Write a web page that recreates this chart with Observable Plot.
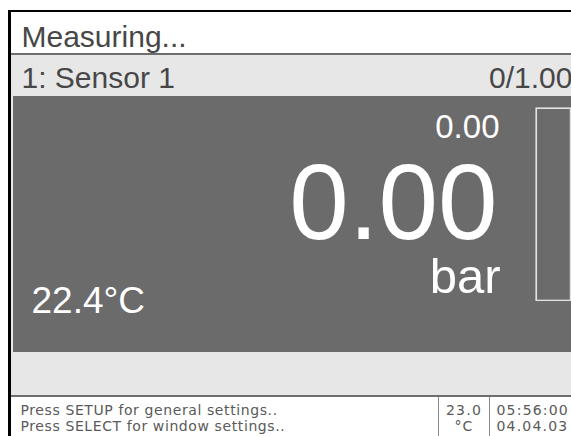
<!DOCTYPE html>
<html>
<head>
<meta charset="utf-8">
<script src="https://cdn.jsdelivr.net/npm/d3@7"></script>
<script src="https://cdn.jsdelivr.net/npm/@observablehq/plot@0.6"></script>
<style>
  html, body { margin: 0; padding: 0; background: #fff; overflow: hidden; }
  #screen { position: relative; width: 571px; height: 436px; }
  #screen svg { display: block; overflow: hidden; }
  #gauge { position: absolute; left: 535px; top: 107px; }
</style>
</head>
<body>
<div id="screen"><div id="main"></div><div id="gauge"></div></div>
<script>
// ---- data read from the display ----
const statusTitle = ["Measuring..."];
const channelLabels = ["1: Sensor 1"];
const rangeMin = [0];
const rangeMax = [1.00];
const setpointValues = [0.00];
const readingValues = [0.00];
const unitLabels = ["bar"];
const sensorTemperature = [22.4];
const helpLines = ["Press SETUP for general settings..", "Press SELECT for window settings.."];
const ambientTemperature = [23.0];
const ambientUnit = ["°C"];
const clockLines = ["05:56:00", "04.04.03"];

// ---- layout (screen geometry) ----
const W = 571, H = 436;
const FONT = "'Liberation Sans', Arial, Helvetica, sans-serif";
const SMALLFONT = "'DejaVu Sans', Verdana, sans-serif";
const DARK = "#6b6b6b", LIGHT = "#e7e7e7", INK = "#474747", SEP = "#6e6e6e", SMALL = "#5a5a5a";
const LINE1 = 414, LINE_GAP = 16.5;

const fmt2 = d3.format(".2f");
const rangeText = rangeMin.map((m, i) => `${m}/${fmt2(rangeMax[i])}`);
const tempText = sensorTemperature.map(t => `${t.toFixed(1)}°C`);
const ambientText = ambientTemperature.map(t => t.toFixed(1));

const box = (x1, x2, y1, y2, fill) => Plot.rect([0], {x1, x2, y1, y2, fill});

const main = Plot.plot({
  width: W, height: H, margin: 0,
  style: {fontFamily: FONT, background: "#fff"},
  x: {domain: [0, W], range: [0, W], axis: null},
  y: {domain: [0, H], range: [0, H], axis: null},
  marks: [
    // frame & panels
    box(8, 11, 10, H, "#000"),
    box(8, W, 10, 12, "#000"),
    box(11, W, 53, 55, SEP),
    box(11, W, 55, 397, LIGHT),
    box(13, W, 96, 352, DARK),
    box(11, W, 395, 397, SEP),
    box(11, W, 397, H, "#fff"),
    box(438, 439, 397, H, "#8a8a8a"),
    box(489, 490, 397, H, "#8a8a8a"),

    // header texts
    Plot.text(statusTitle, {x: 21, y: 46, text: d => d, textAnchor: "start", lineAnchor: "bottom", fontSize: 30, fill: INK}),
    Plot.text(channelLabels, {x: 21, y: 87, text: d => d, textAnchor: "start", lineAnchor: "bottom", fontSize: 30, fill: INK}),
    Plot.text(rangeText, {x: 572, y: 87, text: d => d, textAnchor: "end", lineAnchor: "bottom", fontSize: 30, fill: INK}),

    // measurement panel
    Plot.text(setpointValues, {x: 499, y: 137, text: d => fmt2(d), textAnchor: "end", lineAnchor: "bottom", fontSize: 33, fill: "#fff"}),
    Plot.text(readingValues, {x: 497, y: 238, text: d => fmt2(d), textAnchor: "end", lineAnchor: "bottom", fontSize: 107, fill: "#fff"}),
    Plot.text(unitLabels, {x: 500, y: 292, text: d => d, textAnchor: "end", lineAnchor: "bottom", fontSize: 49, fill: "#fff"}),
    Plot.text(tempText, {x: 31, y: 312, text: d => d, textAnchor: "start", lineAnchor: "bottom", fontSize: 37, fill: "#fff"}),

    // status bar
    Plot.text(helpLines, {x: 20, y: (d, i) => LINE1 + LINE_GAP * i, text: d => d, textAnchor: "start", lineAnchor: "bottom", fontSize: 14, fontFamily: SMALLFONT, fill: SMALL}),
    Plot.text(ambientText, {x: 463.5, y: LINE1, text: d => d, textAnchor: "middle", lineAnchor: "bottom", fontSize: 14, fontFamily: SMALLFONT, fill: SMALL}),
    Plot.text(ambientUnit, {x: 463.5, y: LINE1 + LINE_GAP, text: d => d, textAnchor: "middle", lineAnchor: "bottom", fontSize: 14, fontFamily: SMALLFONT, fill: SMALL}),
    Plot.text(clockLines, {x: 496, y: (d, i) => LINE1 + LINE_GAP * i, text: d => d, textAnchor: "start", lineAnchor: "bottom", fontSize: 14, fontFamily: SMALLFONT, fill: SMALL})
  ]
});
// widen the small status-bar lettering like the device's font
d3.select(main).selectAll("g[font-family*='DejaVu']").each(function () {
  const g = d3.select(this);
  const isHelp = g.selectAll("text").nodes().some(n => n.textContent.startsWith("Press"));
  g.attr("letter-spacing", isHelp ? "0.6px" : "1.2px");
});
document.getElementById("main").appendChild(main);

// bar gauge: reading within the sensor range
const gauge = Plot.plot({
  width: 44, height: 237, margin: 1,
  style: {background: "transparent"},
  x: {domain: [0, 1], axis: null},
  y: {domain: [rangeMin[0], rangeMax[0]], axis: null},
  marks: [
    Plot.rectY(readingValues, {x1: 0, x2: 1, y1: rangeMin[0], y2: d => d, fill: "#fff"}),
    Plot.frame({stroke: "#e2e2e2", strokeWidth: 2})
  ]
});
document.getElementById("gauge").appendChild(gauge);
</script>
</body>
</html>
